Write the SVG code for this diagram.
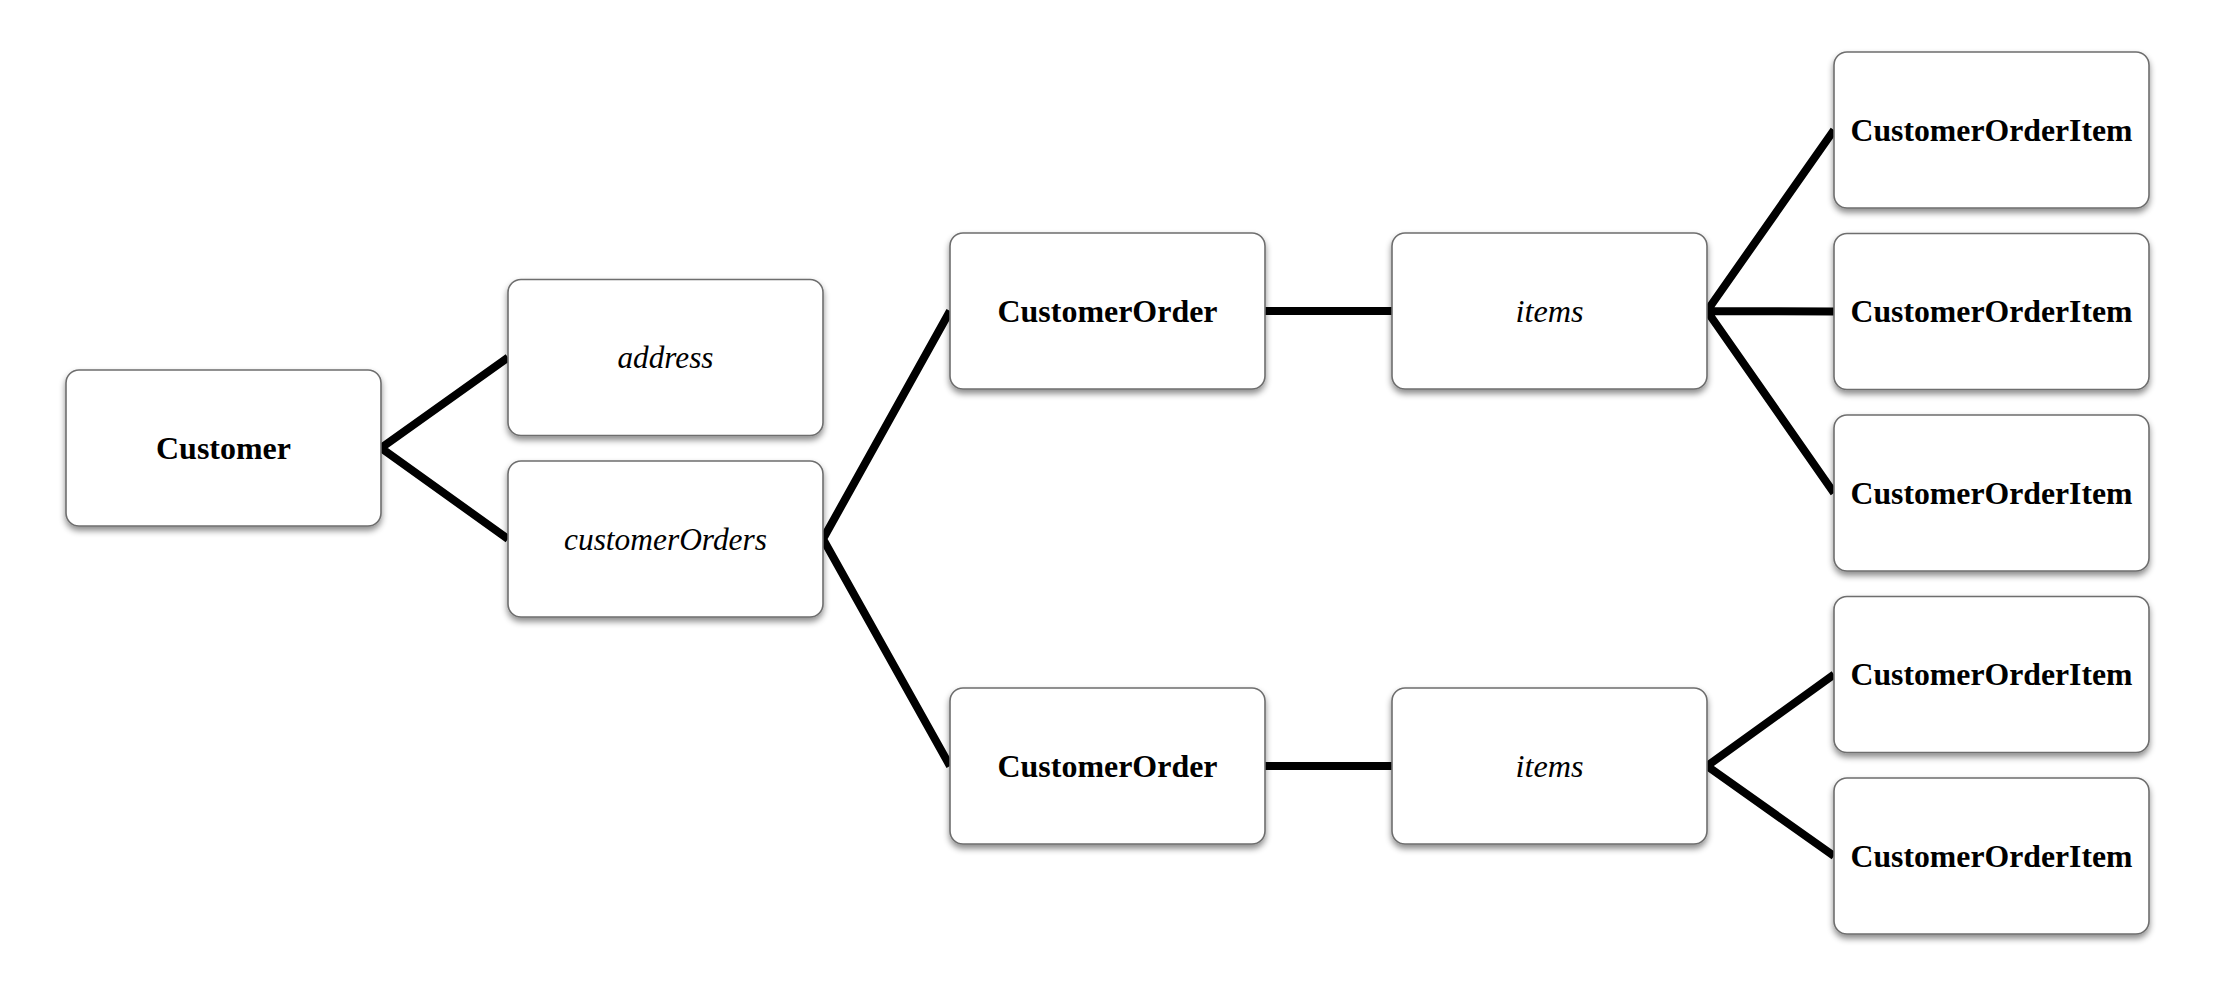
<svg xmlns="http://www.w3.org/2000/svg" width="2224" height="988" viewBox="0 0 2224 988">
<style>
.box{fill:#fff;stroke:#6e6e6e;stroke-width:1.6;filter:url(#sh)}
.b{font-family:"Liberation Serif","DejaVu Serif",serif;font-weight:bold;font-size:32px;text-anchor:middle;fill:#000}
.i{font-family:"Liberation Serif","DejaVu Serif",serif;font-style:italic;font-size:32px;text-anchor:middle;fill:#000}
.c{stroke:#000;stroke-width:8;fill:none;stroke-linecap:butt}
</style>
<defs>
<filter id="sh" x="-10%" y="-10%" width="120%" height="130%">
<feDropShadow dx="0" dy="4" stdDeviation="3" flood-color="#000" flood-opacity="0.45"/>
</filter>
</defs>
<rect width="2224" height="988" fill="#fff"/>
<g id="connectors">
<path class="c" d="M381 448 L508 357.5 M381 448 L508 539"/>
<path class="c" d="M823 539 L950 311 M823 539 L950 766"/>
<path class="c" d="M1265 311 L1392 311 M1265 766 L1392 766"/>
<path class="c" d="M1707 311 L1834 130 M1707 311 L1834 311.5 M1707 311 L1834 493"/>
<path class="c" d="M1707 766 L1834 674.5 M1707 766 L1834 856"/>
</g>
<g id="customer"><rect class="box" x="66" y="370" width="315" height="156" rx="13"/><text class="b" x="223.5" y="458.5" textLength="135" lengthAdjust="spacingAndGlyphs">Customer</text></g>
<g id="address"><rect class="box" x="508" y="279.5" width="315" height="156" rx="13"/><text class="i" x="665.5" y="368" textLength="96" lengthAdjust="spacingAndGlyphs">address</text></g>
<g id="customerOrders"><rect class="box" x="508" y="461" width="315" height="156" rx="13"/><text class="i" x="665.5" y="549.5" textLength="203" lengthAdjust="spacingAndGlyphs">customerOrders</text></g>
<g id="customerOrder1"><rect class="box" x="950" y="233" width="315" height="156" rx="13"/><text class="b" x="1107.5" y="321.5" textLength="220" lengthAdjust="spacingAndGlyphs">CustomerOrder</text></g>
<g id="items1"><rect class="box" x="1392" y="233" width="315" height="156" rx="13"/><text class="i" x="1549.5" y="321.5" textLength="68" lengthAdjust="spacingAndGlyphs">items</text></g>
<g id="customerOrder2"><rect class="box" x="950" y="688" width="315" height="156" rx="13"/><text class="b" x="1107.5" y="776.5" textLength="220" lengthAdjust="spacingAndGlyphs">CustomerOrder</text></g>
<g id="items2"><rect class="box" x="1392" y="688" width="315" height="156" rx="13"/><text class="i" x="1549.5" y="776.5" textLength="68" lengthAdjust="spacingAndGlyphs">items</text></g>
<g id="item1"><rect class="box" x="1834" y="52" width="315" height="156" rx="13"/><text class="b" x="1991.5" y="140.5" textLength="282" lengthAdjust="spacingAndGlyphs">CustomerOrderItem</text></g>
<g id="item2"><rect class="box" x="1834" y="233.5" width="315" height="156" rx="13"/><text class="b" x="1991.5" y="322" textLength="282" lengthAdjust="spacingAndGlyphs">CustomerOrderItem</text></g>
<g id="item3"><rect class="box" x="1834" y="415" width="315" height="156" rx="13"/><text class="b" x="1991.5" y="503.5" textLength="282" lengthAdjust="spacingAndGlyphs">CustomerOrderItem</text></g>
<g id="item4"><rect class="box" x="1834" y="596.5" width="315" height="156" rx="13"/><text class="b" x="1991.5" y="685" textLength="282" lengthAdjust="spacingAndGlyphs">CustomerOrderItem</text></g>
<g id="item5"><rect class="box" x="1834" y="778" width="315" height="156" rx="13"/><text class="b" x="1991.5" y="866.5" textLength="282" lengthAdjust="spacingAndGlyphs">CustomerOrderItem</text></g>
</svg>
